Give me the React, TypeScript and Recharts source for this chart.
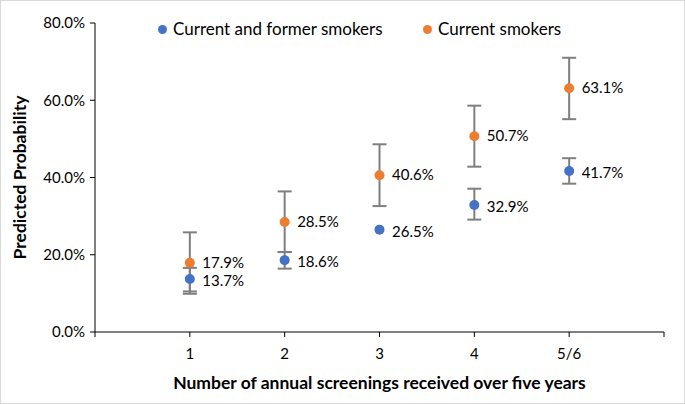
import React from "react";
import {
  ScatterChart,
  Scatter,
  XAxis,
  YAxis,
  ErrorBar,
  LabelList,
  Label,
} from "recharts";

// values in percent; x = screening count position (5 = "5/6")
const CATEGORIES = [1, 2, 3, 4, 5];
const CATEGORY_LABELS = ["1", "2", "3", "4", "5/6"];

// confidence bounds; point 3 of the first series shows none
const FORMER_VALUES = [13.7, 18.6, 26.5, 32.9, 41.7];
const FORMER_LOW = [9.9, 16.4, 26.5, 29.1, 38.4];
const FORMER_HIGH = [16.6, 20.7, 26.5, 37.1, 45.0];

const CURRENT_VALUES = [17.9, 28.5, 40.6, 50.7, 63.1];
const CURRENT_LOW = [10.5, 20.7, 32.6, 42.8, 55.1];
const CURRENT_HIGH = [25.8, 36.4, 48.6, 58.6, 71.0];

const Y_TICKS = [0, 20, 40, 60, 80];
const X_TICKS = [0, 1, 2, 3, 4, 5, 6];

const SERIES_NAMES = ["Current and former smokers", "Current smokers"];

const COLORS = {
  blue: "#4472C4",
  orange: "#ED7D31",
  err: "#7F7F7F",
  axis: "#000000",
  text: "#000000",
  border: "#D9D9D9",
};

const FONT = "Lato, 'Open Sans', sans-serif";

function build(values: number[], low: number[], high: number[]) {
  return CATEGORIES.map((x, i) => ({
    x,
    y: values[i],
    // no bar when the interval collapses onto the point
    err: high[i] > low[i] ? [values[i] - low[i], high[i] - values[i]] : null,
  }));
}

const formerData = build(FORMER_VALUES, FORMER_LOW, FORMER_HIGH);
const currentData = build(CURRENT_VALUES, CURRENT_LOW, CURRENT_HIGH);

function ChartLegend() {
  const colors = [COLORS.blue, COLORS.orange];
  const lefts = [157, 422];
  return (
    <>
      {SERIES_NAMES.map((name, i) => (
        <div
          key={i}
          style={{
            position: "absolute",
            top: 18,
            left: lefts[i],
            display: "flex",
            alignItems: "center",
            fontFamily: FONT,
            fontSize: 17,
            lineHeight: "20px",
            color: COLORS.text,
            whiteSpace: "nowrap",
          }}
        >
          <span
            style={{
              width: 9,
              height: 9,
              borderRadius: "50%",
              background: colors[i],
              display: "inline-block",
              marginRight: 6,
            }}
          />
          {name}
        </div>
      ))}
    </>
  );
}

const pct = (v: number) => `${v.toFixed(1)}%`;

function Dot(color: string) {
  return (p: any) => <circle cx={p.cx} cy={p.cy} r={5} fill={color} />;
}

export default function App() {
  return (
    <div
      style={{
        width: 683,
        height: 402,
        border: `1px solid ${COLORS.border}`,
        background: "#fff",
        position: "relative",
      }}
    >
      <style>{`body{margin:0}`}</style>
      <ScatterChart
        width={683}
        height={402}
        margin={{ top: 22, right: 20, left: 0, bottom: 0 }}
        style={{ fontFamily: FONT }}
      >
        <XAxis
          type="number"
          dataKey="x"
          domain={[0, 6]}
          ticks={X_TICKS}
          height={71}
          stroke={COLORS.axis}
          tickSize={5}
          tickMargin={11}
          tick={{ fill: COLORS.text, fontSize: 15 }}
          tickFormatter={(v: number) =>
            v >= 1 && v <= 5 ? CATEGORY_LABELS[v - 1] : ""
          }
        >
          <Label
            value="Number of annual screenings received over five years"
            position="insideBottom"
            offset={14}
            style={{ fontWeight: 700, fontSize: 17.5, fill: COLORS.text }}
          />
        </XAxis>
        <YAxis
          type="number"
          dataKey="y"
          domain={[0, 80]}
          ticks={Y_TICKS}
          width={94}
          stroke={COLORS.axis}
          tickSize={5}
          tickMargin={5}
          tick={{ fill: COLORS.text, fontSize: 15 }}
          tickFormatter={pct}
        >
          <Label
            value="Predicted Probability"
            angle={-90}
            position="insideLeft"
            offset={19}
            style={{ fontWeight: 700, fontSize: 17.5, fill: COLORS.text, textAnchor: "middle" }}
          />
        </YAxis>
        <Scatter
          name={SERIES_NAMES[0]}
          data={formerData}
          fill={COLORS.blue}
          isAnimationActive={false}
          shape={Dot(COLORS.blue)}
        >
          <ErrorBar
            dataKey="err"
            direction="y"
            width={7}
            stroke={COLORS.err}
            strokeWidth={2}
            isAnimationActive={false}
          />
          <LabelList
            dataKey="y"
            position="right"
            offset={8}
            dy={2}
            formatter={pct}
            style={{ fontSize: 15, fill: COLORS.text }}
          />
        </Scatter>
        <Scatter
          name={SERIES_NAMES[1]}
          data={currentData}
          fill={COLORS.orange}
          isAnimationActive={false}
          shape={Dot(COLORS.orange)}
        >
          <ErrorBar
            dataKey="err"
            direction="y"
            width={7}
            stroke={COLORS.err}
            strokeWidth={2}
            isAnimationActive={false}
          />
          <LabelList
            dataKey="y"
            position="right"
            offset={8}
            dy={-0.5}
            formatter={pct}
            style={{ fontSize: 15, fill: COLORS.text }}
          />
        </Scatter>
      </ScatterChart>
      <ChartLegend />
    </div>
  );
}
